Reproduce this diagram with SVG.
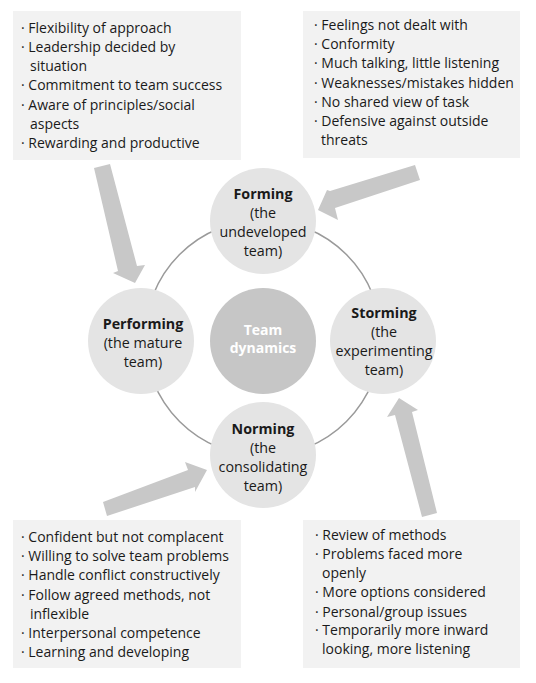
<svg xmlns="http://www.w3.org/2000/svg" width="536" height="683" viewBox="0 0 536 683">
<style>
.box{fill:#f2f2f2}
.t{font-family:"Open Sans","Liberation Sans",sans-serif;font-size:14px;fill:#1a1a1a}
.c{font-family:"Open Sans","Liberation Sans",sans-serif;font-size:14.3px;fill:#1a1a1a;text-anchor:middle}
.b{font-weight:bold}
.stage{fill:#e4e4e4}
.arrow{fill:#c8c8c8}
.ring{fill:none;stroke:#9a9a9a;stroke-width:1.5}
.w{fill:#ffffff;font-weight:bold;font-size:14px}
</style>
<rect width="536" height="683" fill="#ffffff"/>
<g id="box-performing">
<rect class="box" x="13" y="11" width="228" height="149"/>
<text class="t" x="21" y="33">· Flexibility of approach</text>
<text class="t" x="21" y="52">· Leadership decided by</text>
<text class="t" x="30" y="71">situation</text>
<text class="t" x="21" y="90">· Commitment to team success</text>
<text class="t" x="21" y="110">· Aware of principles/social</text>
<text class="t" x="30" y="129">aspects</text>
<text class="t" x="21" y="148">· Rewarding and productive</text>
</g>
<g id="box-forming">
<rect class="box" x="303" y="11" width="217" height="147"/>
<text class="t" x="314" y="30">· Feelings not dealt with</text>
<text class="t" x="314" y="49">· Conformity</text>
<text class="t" x="314" y="68">· Much talking, little listening</text>
<text class="t" x="314" y="88">· Weaknesses/mistakes hidden</text>
<text class="t" x="314" y="107">· No shared view of task</text>
<text class="t" x="314" y="126">· Defensive against outside</text>
<text class="t" x="321" y="145">threats</text>
</g>
<g id="box-norming">
<rect class="box" x="13" y="520" width="228" height="148"/>
<text class="t" x="21" y="542">· Confident but not complacent</text>
<text class="t" x="21" y="561">· Willing to solve team problems</text>
<text class="t" x="21" y="580">· Handle conflict constructively</text>
<text class="t" x="21" y="600">· Follow agreed methods, not</text>
<text class="t" x="30" y="619">inflexible</text>
<text class="t" x="21" y="638">· Interpersonal competence</text>
<text class="t" x="21" y="657">· Learning and developing</text>
</g>
<g id="box-storming">
<rect class="box" x="303" y="520" width="217" height="148"/>
<text class="t" x="315" y="540">· Review of methods</text>
<text class="t" x="315" y="559">· Problems faced more</text>
<text class="t" x="322" y="578">openly</text>
<text class="t" x="315" y="597">· More options considered</text>
<text class="t" x="315" y="617">· Personal/group issues</text>
<text class="t" x="315" y="635">· Temporarily more inward</text>
<text class="t" x="322" y="654">looking, more listening</text>
</g>
<g id="connectors">
<circle class="ring" cx="263" cy="338" r="118"/>
<polygon class="arrow" points="94,168 110,164 137,266 145,265 135,283 113,273 118,271"/>
<polygon class="arrow" points="415,165 420,180 335,208 338,220 318,210 327,190 330,191"/>
<polygon class="arrow" points="103,502 188,470 185,462 207,470 195,492 195,487 107,516"/>
<polygon class="arrow" points="399,398 418,410 412,412 437,513 422,517 395,415 387,417"/>
</g>
<g id="forming">
<circle class="stage" cx="263" cy="221" r="53"/>
<text class="c b" x="263" y="199">Forming</text>
<text class="c" x="263" y="218">(the</text>
<text class="c" x="263" y="237">undeveloped</text>
<text class="c" x="263" y="256">team)</text>
</g>
<g id="performing">
<circle class="stage" cx="141" cy="341" r="53"/>
<text class="c b" x="143" y="329">Performing</text>
<text class="c" x="143" y="348">(the mature</text>
<text class="c" x="143" y="367">team)</text>
</g>
<g id="team-dynamics">
<circle cx="263" cy="341" r="53" fill="#c6c6c6"/>
<text class="c w" x="263" y="335">Team</text>
<text class="c w" x="263" y="353">dynamics</text>
</g>
<g id="storming">
<circle class="stage" cx="383" cy="341" r="53"/>
<text class="c b" x="384" y="318">Storming</text>
<text class="c" x="384" y="337">(the</text>
<text class="c" x="384" y="356">experimenting</text>
<text class="c" x="384" y="375">team)</text>
</g>
<g id="norming">
<circle class="stage" cx="263" cy="455" r="53"/>
<text class="c b" x="263" y="434">Norming</text>
<text class="c" x="263" y="453">(the</text>
<text class="c" x="263" y="472">consolidating</text>
<text class="c" x="263" y="491">team)</text>
</g>
</svg>
